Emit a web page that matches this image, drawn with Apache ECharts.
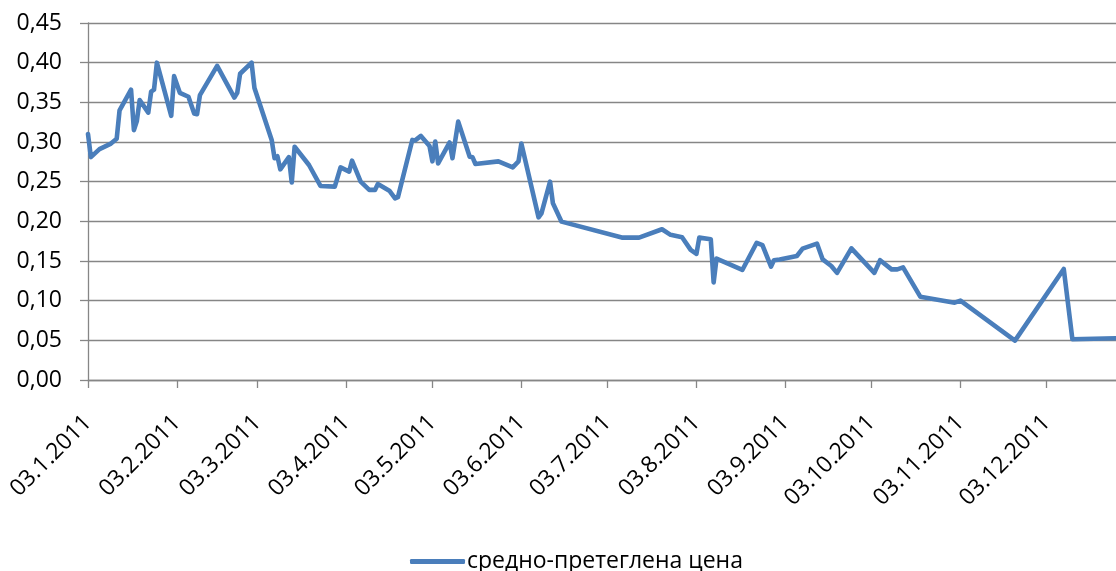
<!DOCTYPE html>
<html>
<head>
<meta charset="utf-8">
<script src="https://cdn.jsdelivr.net/npm/echarts@6/dist/echarts.min.js"></script>
<style>html,body{margin:0;padding:0;background:#fff}#c{width:1116px;height:571px}</style>
</head>
<body>
<div id="c"></div>
<script>
const seriesName = 'средно-претеглена цена';
const dates = [
 '2011-01-03','2011-01-04','2011-01-07','2011-01-11','2011-01-13','2011-01-14','2011-01-18','2011-01-19','2011-01-20','2011-01-21',
 '2011-01-24','2011-01-25','2011-01-26','2011-01-27','2011-02-01','2011-02-02','2011-02-04','2011-02-07','2011-02-09','2011-02-10',
 '2011-02-11','2011-02-17','2011-02-23','2011-02-24','2011-02-25','2011-03-01','2011-03-02','2011-03-08','2011-03-09','2011-03-10',
 '2011-03-11','2011-03-14','2011-03-15','2011-03-16','2011-03-21','2011-03-25','2011-03-30','2011-04-01','2011-04-04','2011-04-05',
 '2011-04-08','2011-04-11','2011-04-13','2011-04-14','2011-04-18','2011-04-20','2011-04-21','2011-04-26','2011-04-27','2011-04-29',
 '2011-05-02','2011-05-03','2011-05-04','2011-05-05','2011-05-09','2011-05-10','2011-05-12','2011-05-16','2011-05-17','2011-05-18',
 '2011-05-26','2011-05-31','2011-06-02','2011-06-03','2011-06-09','2011-06-10','2011-06-13','2011-06-14','2011-06-17','2011-07-08',
 '2011-07-14','2011-07-22','2011-07-25','2011-07-29','2011-08-01','2011-08-03','2011-08-04','2011-08-08','2011-08-09','2011-08-10',
 '2011-08-19','2011-08-24','2011-08-26','2011-08-29','2011-08-30','2011-09-01','2011-09-07','2011-09-09','2011-09-14','2011-09-16',
 '2011-09-19','2011-09-21','2011-09-26','2011-10-04','2011-10-06','2011-10-10','2011-10-12','2011-10-14','2011-10-20','2011-11-01',
 '2011-11-03','2011-11-22','2011-12-09','2011-12-12','2011-12-27'
];
const prices = [
 0.310,0.281,0.291,0.298,0.304,0.340,0.366,0.315,0.326,0.353,
 0.337,0.3635,0.366,0.400,0.333,0.383,0.362,0.357,0.336,0.335,
 0.359,0.396,0.356,0.362,0.386,0.400,0.368,0.3026,0.2795,0.282,
 0.2655,0.281,0.249,0.294,0.271,0.2446,0.2437,0.268,0.2627,0.2765,
 0.250,0.2396,0.2396,0.247,0.2387,0.229,0.2305,0.3026,0.302,0.3077,
 0.295,0.2756,0.3005,0.273,0.2995,0.2795,0.3257,0.2815,0.2807,0.2723,
 0.2756,0.268,0.2756,0.298,0.205,0.210,0.250,0.2227,0.1996,0.1795,
 0.1795,0.190,0.183,0.180,0.164,0.159,0.1795,0.1775,0.123,0.153,
 0.1387,0.173,0.170,0.143,0.151,0.152,0.1563,0.1656,0.172,0.152,
 0.1437,0.135,0.166,0.135,0.151,0.1395,0.1395,0.142,0.105,0.0975,
 0.100,0.0496,0.140,0.0513,0.0526
];
const tickDates = ['2011-01-03','2011-02-03','2011-03-03','2011-04-03','2011-05-03','2011-06-03','2011-07-03','2011-08-03','2011-09-03','2011-10-03','2011-11-03','2011-12-03'];
const yTicks = [0,0.05,0.10,0.15,0.20,0.25,0.30,0.35,0.40,0.45];

const DAY = 86400000;
function ts(s){const p=s.split('-').map(Number);return Date.UTC(p[0],p[1]-1,p[2]);}
const t0 = ts('2011-01-03');
function dayIdx(s){return Math.round((ts(s)-t0)/DAY);}
function label(d){const x=new Date(t0+Math.round(d)*DAY);return String(x.getUTCDate()).padStart(2,'0')+'.'+(x.getUTCMonth()+1)+'.'+x.getUTCFullYear();}
const data = dates.map((d,i)=>[dayIdx(d),prices[i]]);
const tickIdx = tickDates.map(dayIdx);
const xMax = dayIdx('2011-12-27') + 0.2;
const FONT = 'Open Sans';
const GRID = '#868686';

const chart = echarts.init(document.getElementById('c'), null, {renderer:'canvas'});
chart.setOption({
  animation:false,
  backgroundColor:'#fff',
  grid:{left:88, right:0, top:23, bottom:191, containLabel:false},
  xAxis:{
    type:'value', min:0, max:xMax,
    axisLine:{lineStyle:{color:GRID, width:1.3}},
    axisTick:{show:true, length:8, customValues:tickIdx, lineStyle:{color:GRID, width:1.3}},
    axisLabel:{customValues:tickIdx, rotate:45, margin:39, color:'#000', fontFamily:FONT, fontSize:23, showMaxLabel:true, showMinLabel:true,
      formatter:function(v){return label(v);}},
    splitLine:{show:false}
  },
  yAxis:{
    type:'value', min:0, max:0.45, interval:0.05,
    axisLine:{show:true, lineStyle:{color:GRID, width:1.3}},
    axisTick:{show:true, length:8, inside:false, lineStyle:{color:GRID, width:1.3}},
    axisLabel:{margin:26, color:'#000', fontFamily:FONT, fontSize:23,
      formatter:function(v){return v.toFixed(2).replace('.',',');}},
    splitLine:{show:true, lineStyle:{color:GRID, width:1.3}}
  },
  legend:{
    show:true, top:545, left:405,
    icon:'roundRect', itemWidth:55, itemHeight:5, itemGap:10,
    textStyle:{color:'#000', fontFamily:FONT, fontSize:23, padding:[0,0,0,-3]},
    data:[seriesName]
  },
  series:[{
    name:seriesName, type:'line', data:data, showSymbol:false, symbol:'none',
    lineStyle:{color:'#4a7ebb', width:4.6, join:'round', cap:'round'},
    itemStyle:{color:'#4a7ebb'}
  }]
});
</script>
</body>
</html>
